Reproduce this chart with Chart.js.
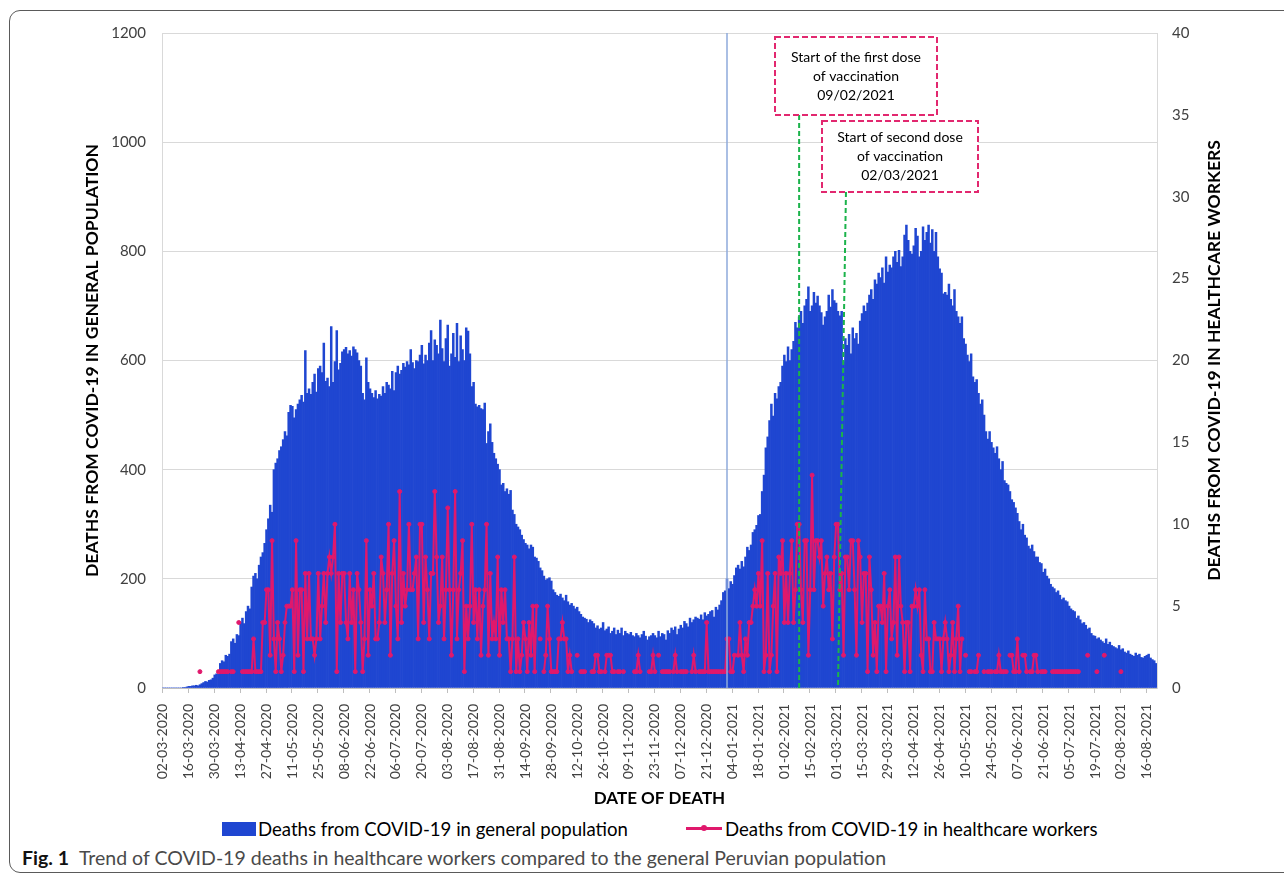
<!DOCTYPE html>
<html>
<head>
<meta charset="utf-8">
<script src="https://cdn.jsdelivr.net/npm/chart.js@4.4.1/dist/chart.umd.min.js"></script>
<style>
  html, body { margin: 0; padding: 0; background: #fff; overflow: hidden; }
  body { width: 1284px; height: 877px; position: relative; font-family: Lato, sans-serif; }
  #frame { position: absolute; left: 9px; top: 10px; width: 1320px; height: 863px; border: 1.3px solid #5a5a5a; border-radius: 11px; box-sizing: border-box; }
  #chart { position: absolute; left: 0; top: 0; }
  .leg { position: absolute; top: 818px; font-size: 18.6px; line-height: 22px; color: #000; white-space: nowrap; }
  .swatch { position: absolute; left: 222px; top: 822px; width: 34px; height: 14px; background: #1f46d1; }
  .legline { position: absolute; left: 686px; top: 827px; width: 36px; height: 2.5px; background: #e0186c; }
  .legdot { position: absolute; left: 701px; top: 825px; width: 6px; height: 6px; border-radius: 50%; background: #e0186c; }
  #caption { position: absolute; left: 22px; top: 846px; font-size: 19.5px; line-height: 24px; color: #4a4a4a; white-space: nowrap; }
  #caption b { color: #111; margin-right: 10px; }
</style>
</head>
<body>
<div id="frame"></div>
<canvas id="chart" width="1284" height="812"></canvas>
<div class="swatch"></div>
<div class="leg" style="left:258px">Deaths from COVID-19 in general population</div>
<div class="legline"></div>
<div class="legdot"></div>
<div class="leg" style="left:725px">Deaths from COVID-19 in healthcare workers</div>
<div id="caption"><b>Fig. 1</b>Trend of COVID-19 deaths in healthcare workers compared to the general Peruvian population</div>
<script>
// daily deaths, general population (left axis), from 02-03-2020
const generalDeaths = [
  0,0,0,0,0,0,0,0,0,0,0,1,1,2,
  3,3,4,4,5,4,6,8,10,12,11,14,15,18,
  24,26,25,45,50,48,60,58,62,85,90,82,98,96,
  120,128,118,140,150,145,185,205,210,200,225,240,248,265,
  290,310,335,322,400,412,420,435,442,455,470,462,505,518,
  516,495,510,520,528,536,524,618,540,548,538,560,575,542,
  585,590,578,632,562,568,552,662,560,598,655,583,595,616,
  620,624,612,618,608,625,620,614,600,590,540,528,605,560,
  548,540,532,545,530,538,535,552,540,560,555,548,580,545,
  578,590,575,582,595,588,598,592,620,596,585,600,598,610,
  628,594,610,600,632,655,600,638,628,612,674,622,598,640,
  665,590,612,650,606,668,598,645,620,600,660,654,612,552,
  560,520,515,518,512,510,522,448,470,484,450,430,420,410,
  400,372,375,360,365,355,362,326,318,300,295,290,280,272,
  265,262,255,262,258,240,238,232,220,215,205,198,200,202,
  196,180,175,170,168,172,165,160,170,158,152,155,150,145,
  148,140,135,130,128,126,120,125,122,118,110,114,108,110,
  120,105,108,112,100,104,110,98,106,100,110,96,104,100,
  98,102,96,94,100,96,92,98,104,95,88,94,96,100,
  96,92,104,94,100,98,88,105,100,110,106,112,98,108,
  115,110,122,118,112,128,120,125,130,128,126,134,125,138,
  132,135,140,142,130,148,143,152,160,175,178,200,182,195,
  190,206,220,225,218,232,222,240,258,252,262,285,290,298,
  316,318,360,390,440,460,490,520,498,540,530,552,560,590,
  610,598,625,600,620,635,670,660,680,690,668,700,712,735,
  690,700,725,705,718,700,688,665,680,690,720,698,730,710,
  705,690,682,690,598,640,628,648,612,660,640,650,630,672,
  686,700,690,705,720,730,712,748,740,760,752,770,742,790,
  762,775,770,790,800,780,802,772,790,830,848,820,800,795,
  810,842,828,790,800,845,820,835,848,815,840,800,835,790,
  768,760,722,725,720,740,712,700,730,690,680,668,680,640,
  630,610,598,612,570,560,565,540,520,528,500,470,456,470,
  450,440,430,442,420,400,415,380,375,372,360,345,340,330,
  320,305,290,300,280,275,260,255,262,250,240,240,230,228,
  212,218,205,200,190,185,182,175,178,170,162,165,160,158,
  150,145,142,140,128,132,125,118,120,115,108,110,100,96,
  95,90,92,88,85,82,90,80,84,78,76,74,72,78,
  70,72,66,64,68,62,60,58,64,60,62,56,55,58,
  60,62,55,52,50,45
];

// daily deaths, healthcare workers (right axis); null = no record that day
const healthcareDeaths = [
  null,null,null,null,null,null,null,null,null,null,null,null,null,null,
  null,null,null,null,null,null,1,null,null,null,null,null,null,null,
  null,null,1,1,1,1,1,1,null,1,1,null,null,4,
  null,1,1,1,1,1,1,3,1,1,1,1,4,4,
  6,6,2,9,3,1,4,3,1,2,4,5,5,5,
  6,1,9,2,6,6,1,7,3,7,3,3,2,3,
  7,3,5,7,4,7,8,7,8,10,1,7,4,7,
  7,4,3,7,4,6,1,7,6,4,1,3,9,2,
  6,5,7,3,3,4,8,7,4,6,10,2,7,9,
  5,3,12,4,7,5,6,10,6,6,7,8,3,10,
  10,4,8,6,3,7,7,12,8,4,5,8,3,6,
  11,6,2,6,12,3,6,7,9,1,5,3,5,10,
  4,6,3,6,2,5,6,10,2,7,3,4,3,8,
  2,6,4,6,3,3,1,3,8,1,3,1,2,4,
  3,1,4,2,5,1,5,null,3,null,1,2,5,3,
  1,1,1,1,3,3,4,3,3,1,2,1,null,null,
  2,null,1,1,1,null,null,null,1,1,2,2,1,1,
  null,1,2,2,2,1,1,null,1,1,null,1,null,null,
  null,null,null,1,1,2,1,null,null,null,null,1,1,2,
  1,null,2,null,1,1,1,1,1,null,1,2,1,null,
  1,1,1,1,null,null,1,2,1,null,1,1,1,1,
  4,1,1,1,1,1,1,1,1,1,1,3,3,1,
  1,2,null,2,4,2,1,3,2,4,4,5,6,5,
  7,5,9,1,2,7,1,2,5,7,1,8,7,9,
  4,7,4,7,9,4,6,10,10,6,4,9,9,2,
  6,13,6,9,9,8,9,5,7,8,6,7,3,8,
  10,10,6,7,2,8,8,6,9,9,6,2,9,8,
  4,7,7,1,8,6,2,4,1,5,5,4,7,1,
  5,6,3,4,8,2,8,5,4,1,4,4,1,5,
  5,6,5,6,2,1,6,3,3,1,1,4,3,3,
  3,1,3,4,3,1,2,4,1,3,5,1,3,null,
  2,null,1,1,null,1,1,2,null,null,1,null,1,1,
  1,null,1,1,2,1,1,1,1,null,2,2,1,1,
  3,1,null,2,2,1,null,1,1,2,2,1,null,1,
  1,1,null,null,null,1,1,1,1,1,1,1,1,1,
  1,1,1,1,1,1,null,null,null,null,2,null,null,null,
  null,1,null,null,null,2,null,null,null,null,null,null,null,null,
  1,null,null,null,null,null,null,null,null,null,null,null,null,null,
  null,null,null,null,null,null
];

const tickLabels = [
  '02-03-2020','16-03-2020','30-03-2020','13-04-2020','27-04-2020','11-05-2020','25-05-2020',
  '08-06-2020','22-06-2020','06-07-2020','20-07-2020','03-08-2020','17-08-2020','31-08-2020',
  '14-09-2020','28-09-2020','12-10-2020','26-10-2020','09-11-2020','23-11-2020','07-12-2020',
  '21-12-2020','04-01-2021','18-01-2021','01-02-2021','15-02-2021','01-03-2021','15-03-2021',
  '29-03-2021','12-04-2021','26-04-2021','10-05-2021','24-05-2021','07-06-2021','21-06-2021',
  '05-07-2021','19-07-2021','02-08-2021','16-08-2021'
];

const yearStart = '01-01-2021';
const vaccineDates = ['09-02-2021', '02-03-2021'];
const vaccineNotes = [
  ['Start of the first dose', 'of vaccination', '09/02/2021'],
  ['Start of second dose', 'of vaccination', '02/03/2021']
];

// one category per day
const startDay = Date.UTC(2020, 2, 2);
const dates = generalDeaths.map((v, i) => {
  const d = new Date(startDay + i * 86400000);
  return String(d.getUTCDate()).padStart(2, '0') + '-' +
         String(d.getUTCMonth() + 1).padStart(2, '0') + '-' + d.getUTCFullYear();
});

const noteBoxes = [
  { x: 775, y: 37, w: 162, h: 78, lean: 0 },
  { x: 822, y: 121, w: 156, h: 71, lean: 8 }
];

const markers = {
  id: 'markers',
  afterDatasetsDraw(chart) {
    const { ctx, chartArea } = chart;
    const xs = chart.scales.x;
    ctx.save();
    // tick marks under the labelled dates
    ctx.strokeStyle = '#bfbfbf';
    ctx.lineWidth = 1;
    tickLabels.forEach(t => {
      const xt = Math.round(xs.getPixelForValue(dates.indexOf(t)) - xs.width / dates.length / 2) + 0.5;
      ctx.beginPath();
      ctx.moveTo(xt, chartArea.bottom);
      ctx.lineTo(xt, chartArea.bottom + 5);
      ctx.stroke();
    });

    // 2021 start line
    const xb = xs.getPixelForValue(dates.indexOf(yearStart));
    ctx.strokeStyle = '#8eaadb';
    ctx.lineWidth = 1.5;
    ctx.beginPath();
    ctx.moveTo(xb, chartArea.top);
    ctx.lineTo(xb, chartArea.bottom);
    ctx.stroke();

    vaccineDates.forEach((d, k) => {
      const xv = xs.getPixelForValue(dates.indexOf(d));
      const b = noteBoxes[k];
      ctx.setLineDash([5, 3]);
      ctx.lineWidth = 2;
      ctx.strokeStyle = '#1bb34b';
      ctx.beginPath();
      ctx.moveTo(xv + b.lean, b.y + b.h);
      ctx.lineTo(xv, chartArea.bottom);
      ctx.stroke();

      ctx.setLineDash([]);
      ctx.fillStyle = '#fff';
      ctx.fillRect(b.x, b.y, b.w, b.h);
      ctx.setLineDash([6, 3]);
      ctx.strokeStyle = '#e2286f';
      ctx.strokeRect(b.x, b.y, b.w, b.h);
      ctx.setLineDash([]);

      ctx.fillStyle = '#000';
      ctx.font = '14px Lato';
      ctx.textAlign = 'center';
      ctx.textBaseline = 'middle';
      vaccineNotes[k].forEach((line, j) => {
        ctx.fillText(line, b.x + b.w / 2, b.y + b.h / 2 + (j - 1) * 19);
      });
    });
    ctx.restore();
  },
  afterDraw(chart) {
    // right axis title reads bottom-to-top like the left one
    const { ctx, chartArea } = chart;
    ctx.save();
    ctx.translate(1214, (chartArea.top + chartArea.bottom) / 2);
    ctx.rotate(-Math.PI / 2);
    ctx.font = 'bold 17.5px Lato';
    ctx.fillStyle = '#000';
    ctx.textAlign = 'center';
    ctx.textBaseline = 'middle';
    ctx.fillText('DEATHS FROM COVID-19 IN HEALTHCARE WORKERS', 0, 0);
    ctx.restore();
  }
};

new Chart(document.getElementById('chart'), {
  data: {
    labels: dates,
    datasets: [
      {
        type: 'line',
        label: 'Deaths from COVID-19 in healthcare workers',
        data: healthcareDeaths,
        yAxisID: 'y1',
        borderColor: '#e0186c',
        backgroundColor: '#e0186c',
        borderWidth: 2,
        pointRadius: 2,
        pointBorderWidth: 1,
        spanGaps: false,
        tension: 0,
        order: 0
      },
      {
        type: 'bar',
        label: 'Deaths from COVID-19 in general population',
        data: generalDeaths,
        yAxisID: 'y',
        backgroundColor: '#1f46d1',
        borderWidth: 0,
        barPercentage: 1,
        categoryPercentage: 1,
        order: 1
      }
    ]
  },
  options: {
    responsive: false,
    animation: false,
    layout: { padding: { top: 33, left: 0, right: 0, bottom: 0 } },
    plugins: {
      legend: { display: false },
      tooltip: { enabled: false }
    },
    scales: {
      x: {
        afterFit: s => { s.height = 124; },
        grid: { display: false },
        border: { color: '#bfbfbf' },
        ticks: {
          autoSkip: false,
          minRotation: 90,
          maxRotation: 90,
          padding: 8,
          color: '#404040',
          font: { family: 'Lato', size: 14 },
          callback: (v, i) => tickLabels.includes(dates[i]) ? dates[i] : null
        },
        title: {
          display: true,
          text: 'DATE OF DEATH',
          color: '#000',
          font: { family: 'Lato', size: 17, weight: 'bold' },
          padding: { top: 0, bottom: 3 }
        }
      },
      y: {
        position: 'left',
        min: 0,
        max: 1200,
        afterFit: s => { s.width = 162; },
        grid: { color: '#d9d9d9', drawTicks: false },
        border: { color: '#d9d9d9' },
        ticks: {
          stepSize: 200,
          padding: 16,
          color: '#404040',
          font: { family: 'Lato', size: 15 },
          callback: v => String(v)
        },
        title: {
          display: true,
          text: 'DEATHS FROM COVID-19 IN GENERAL POPULATION',
          color: '#000',
          font: { family: 'Lato', size: 17.5, weight: 'bold' },
          padding: { top: 82, bottom: 0 }
        }
      },
      y1: {
        position: 'right',
        min: 0,
        max: 40,
        afterFit: s => { s.width = 127; },
        grid: { drawOnChartArea: false, drawTicks: false },
        border: { color: '#d9d9d9' },
        ticks: { stepSize: 5, padding: 15, color: '#404040', font: { family: 'Lato', size: 15 } }
      }
    }
  },
  plugins: [markers]
});
</script>
</body>
</html>
